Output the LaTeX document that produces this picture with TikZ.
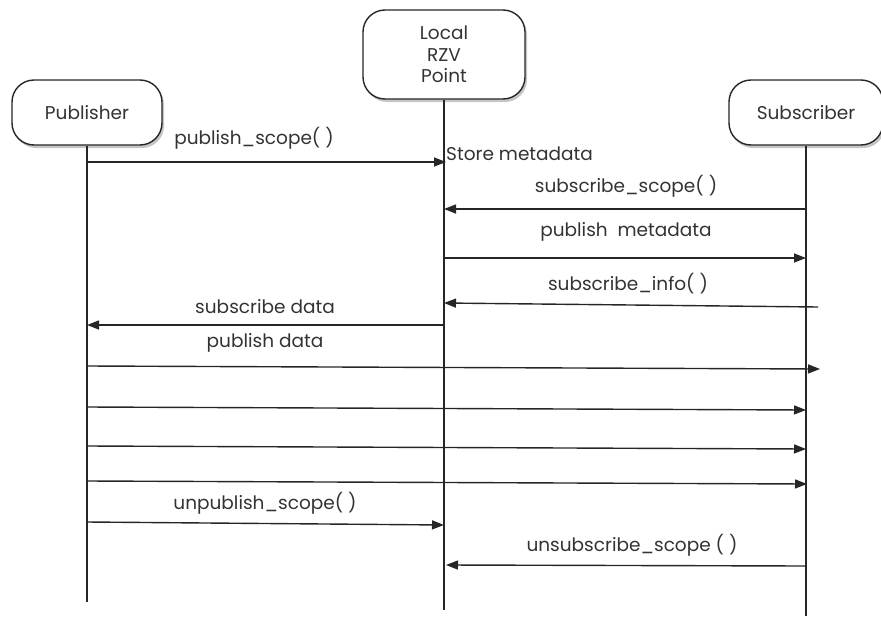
\documentclass[tikz,border=0pt]{standalone}
\usepackage{fontspec}
\setmainfont{Poppins}
\usetikzlibrary{arrows.meta,shadows}
\begin{document}
\begin{tikzpicture}[x=1pt,y=-1pt,
  actor/.style={draw=black!85, line width=1.4pt, rounded corners=22pt, fill=white,
    minimum height=65pt, align=center, font=\fontsize{18.5}{21.5}\selectfont, text=black!80,
    drop shadow={opacity=0.45,shadow xshift=2pt,shadow yshift=-3pt}},
  life/.style={draw=black!85, line width=1.1pt},
  msg/.style={draw=black!85, line width=1.4pt, -{Triangle[length=12pt,width=9pt]}},
  lbl/.style={font=\fontsize{18.5}{21}\selectfont, text=black!80, inner sep=0pt}]
\useasboundingbox (0,0) rectangle (881,616);

% actors
\node[actor, minimum width=150pt] (pub) at (87,112.5) {Publisher};
\node[actor, minimum width=162pt, minimum height=89pt] (rzv) at (444,54.5) {Local\\RZV\\Point};
\node[actor, minimum width=154pt] (sub) at (806,112.5) {Subscriber};

% lifelines
\coordinate (pubend) at (87,602);
\coordinate (rzvend) at (444,610);
\coordinate (subend) at (806,616);
\draw[life] (pub.south) -- (pubend);
\draw[life] (rzv.south) -- (rzvend);
\draw[life] (sub.south) -- (subend);

% message end points
\coordinate (m1a) at (87,162);   \coordinate (m1b) at (446,162);
\coordinate (m2a) at (806,209);  \coordinate (m2b) at (444,209);
\coordinate (m3a) at (444,258);  \coordinate (m3b) at (806,258);
\coordinate (m4a) at (818,307);  \coordinate (m4b) at (444,303);
\coordinate (m5a) at (444,325);  \coordinate (m5b) at (87,325);
\coordinate (m6a) at (87,366);   \coordinate (m6b) at (820,369);
\coordinate (m7a) at (87,407);   \coordinate (m7b) at (806,410);
\coordinate (m8a) at (87,446);   \coordinate (m8b) at (806,449);
\coordinate (m9a) at (87,481);   \coordinate (m9b) at (807,484);
\coordinate (m10a) at (87,522);  \coordinate (m10b) at (444,525);
\coordinate (m11a) at (806,566); \coordinate (m11b) at (446,565);

% messages
\draw[msg] (m1a) -- (m1b);
\draw[msg] (m2a) -- (m2b);
\draw[msg] (m3a) -- (m3b);
\draw[msg] (m4a) -- (m4b);
\draw[msg] (m5a) -- (m5b);
\draw[msg] (m6a) -- (m6b);
\draw[msg] (m7a) -- (m7b);
\draw[msg] (m8a) -- (m8b);
\draw[msg] (m9a) -- (m9b);
\draw[msg] (m10a) -- (m10b);
\draw[msg] (m11a) -- (m11b);

% labels
\node[lbl] (l1) at (254,138) {publish\_scope( )};
\node[lbl, anchor=west] (l1s) at (446,154) {Store metadata};
\node[lbl] (l2) at (626,186) {subscribe\_scope( )};
\node[lbl] (l3) at (626,232) {publish\ \ metadata};
\node[lbl] (l4) at (628,284) {subscribe\_info( )};
\node[lbl] (l5) at (265,307) {subscribe data};
\node[lbl] (l6) at (265,343) {publish data};
\node[lbl] (l10) at (265,503) {unpublish\_scope( )};
\node[lbl] (l11) at (632,545) {unsubscribe\_scope ( )};
\end{tikzpicture}
\end{document}
